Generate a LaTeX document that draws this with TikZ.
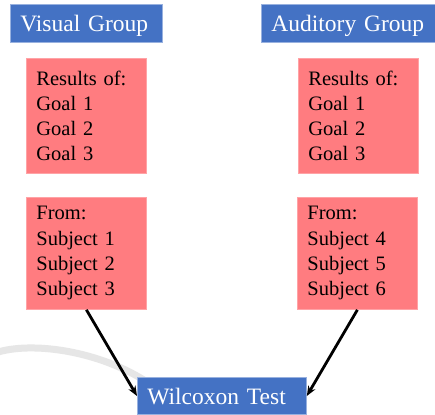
\documentclass[tikz,border=0pt]{standalone}
\usepackage{fontspec}
\setmainfont{Liberation Serif}
\usetikzlibrary{arrows.meta}
\definecolor{boxblue}{HTML}{4472C4}
\definecolor{boxpink}{HTML}{FF7C80}
\definecolor{arcgray}{HTML}{E6E6E6}
\tikzset{
  groupbox/.style={fill=boxblue, draw=boxblue!55!white, line width=0.8pt, text=white,
    minimum height=38pt, inner xsep=10pt, inner ysep=0pt, anchor=west, text depth=0pt,
    font=\fontsize{23.5}{26}\selectfont, align=left},
  infobox/.style={fill=boxpink, draw=boxpink!70!white, line width=0.8pt, text=black,
    minimum width=120pt, inner xsep=10pt, inner ysep=0pt, text width=100pt,
    font=\fontsize{20.5}{25.3}\selectfont, align=left, anchor=north west},
  link/.style={-{Stealth[length=10pt,width=8pt]}, line width=2.8pt, black}
}
\begin{document}
\begin{tikzpicture}[x=1pt,y=1pt]
\useasboundingbox (0,0) rectangle (435,-414);
\fill[white] (0,0) rectangle (435,-414);
\draw[arcgray, line width=7pt] (-5,-353) .. controls (30,-341) and (100,-350) .. (150,-384);
\node[groupbox, text width=132pt] (vis) at (10,-23) {Visual Group};
\node[groupbox, text width=156pt] (aud) at (261,-23) {Auditory Group};
\node[infobox, minimum height=115pt] (res1) at (26,-58) {Results of:\\Goal 1\\Goal 2\\Goal 3};
\node[infobox, minimum height=115pt] (res2) at (298,-58) {Results of:\\Goal 1\\Goal 2\\Goal 3};
\node[infobox, minimum height=112pt] (from1) at (26,-197) {From:\\Subject 1\\Subject 2\\Subject 3};
\node[infobox, minimum height=112pt] (from2) at (297,-197) {From:\\Subject 4\\Subject 5\\Subject 6};
\node[groupbox, text width=149pt, minimum height=37pt] (wil) at (137,-396) {Wilcoxon Test};
\draw[link] (from1.south) -- (wil.west);
\draw[link] (from2.south) -- (wil.east);
\end{tikzpicture}
\end{document}
